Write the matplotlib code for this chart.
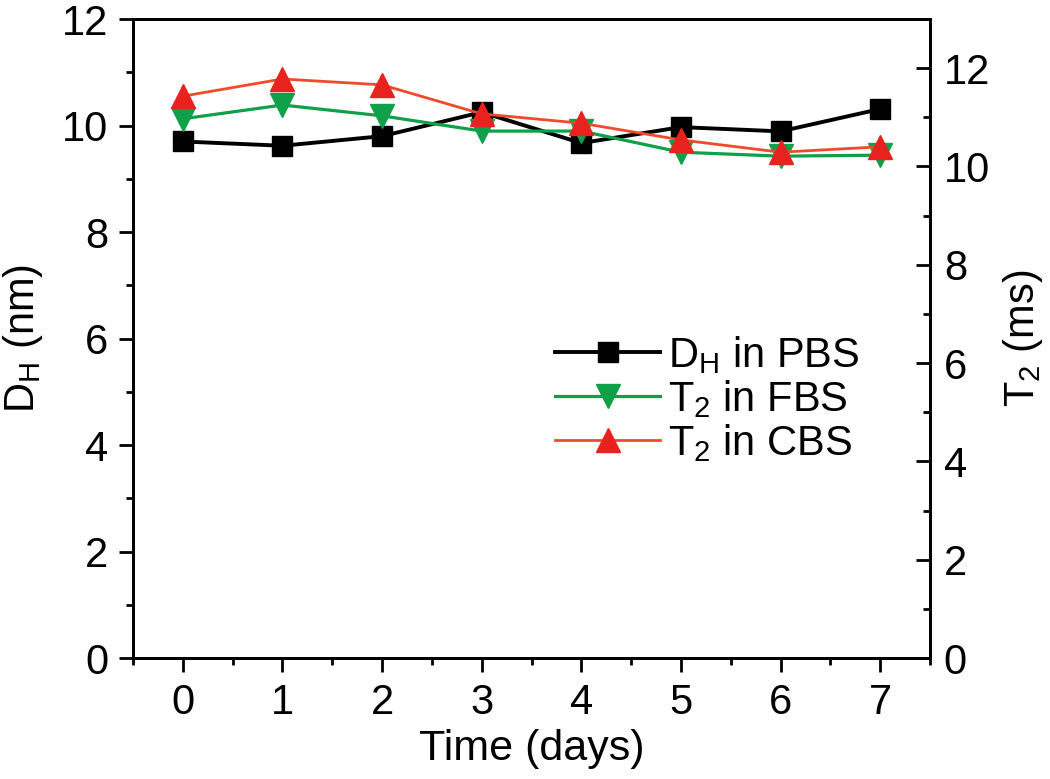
import matplotlib
matplotlib.use("Agg")
import matplotlib.pyplot as plt
from matplotlib.ticker import MultipleLocator

plt.rcParams['font.family'] = ['Liberation Sans', 'DejaVu Sans']
plt.rcParams['mathtext.fontset'] = 'custom'
plt.rcParams['mathtext.rm'] = 'Liberation Sans'
plt.rcParams['mathtext.it'] = 'Liberation Sans:italic'

days = [0, 1, 2, 3, 4, 5, 6, 7]
dh_pbs = [9.70, 9.62, 9.80, 10.25, 9.67, 9.97, 9.89, 10.31]
t2_fbs = [10.97, 11.25, 11.03, 10.72, 10.72, 10.29, 10.21, 10.23]
t2_cbs = [11.43, 11.78, 11.66, 11.07, 10.88, 10.54, 10.29, 10.40]

x_ticks = [0, 1, 2, 3, 4, 5, 6, 7]
left_ticks = [0, 2, 4, 6, 8, 10, 12]
right_ticks = [0, 2, 4, 6, 8, 10, 12]

fig = plt.figure(figsize=(10.5, 7.79), dpi=100)
ax1 = fig.add_axes([0.1267, 0.1553, 0.759, 0.8203])
ax2 = ax1.twinx()

l1, = ax1.plot(days, dh_pbs, color='black', lw=2.8, marker='s', ms=14,
               mfc='black', mec='black', label=r'D$_\mathregular{H}$ in PBS')
l2, = ax2.plot(days, t2_fbs, color='#10a04a', lw=2.3, marker='v', ms=17,
               mfc='#10a04a', mec='#10a04a', label=r'T$_\mathregular{2}$ in FBS')
l3, = ax2.plot(days, t2_cbs, color='#f04a2a', lw=2.0, marker='^', ms=17,
               mfc='#e8221e', mec='#e8221e', label=r'T$_\mathregular{2}$ in CBS')

ax1.set_xlim(-0.5, 7.5)
ax1.set_ylim(0, 12)
ax2.set_ylim(0, 13)
ax1.set_xticks(x_ticks)
ax1.set_yticks(left_ticks)
ax2.set_yticks(right_ticks)
ax1.xaxis.set_minor_locator(MultipleLocator(0.5))
ax1.yaxis.set_minor_locator(MultipleLocator(1))
ax2.yaxis.set_minor_locator(MultipleLocator(1))

for sp in list(ax1.spines.values()) + list(ax2.spines.values()):
    sp.set_linewidth(2.0)

ax1.tick_params(axis='both', which='major', direction='out', length=10, width=2,
                labelsize=30, pad=8)
ax1.tick_params(axis='both', which='minor', direction='out', length=5, width=2)
ax1.tick_params(axis='x', which='both', top=False)
ax2.tick_params(axis='y', which='major', direction='in', length=10, width=2,
                labelsize=30, pad=10)
ax2.tick_params(axis='y', which='minor', direction='in', length=5, width=2)

ax1.set_xlabel('Time (days)', fontsize=31, labelpad=4)
ax1.set_ylabel(r'D$_\mathregular{H}$ (nm)', fontsize=30, labelpad=12)
ax2.set_ylabel(r'T$_\mathregular{2}$ (ms)', fontsize=30, labelpad=8)

leg = ax2.legend(handles=[l1, l2, l3], loc='upper left',
                 bbox_to_anchor=(0.53, 0.507), frameon=False, fontsize=30,
                 handlelength=2.5, handletextpad=0.2, labelspacing=0.05,
                 borderaxespad=0, borderpad=0)

fig.savefig('out.png', dpi=100)
